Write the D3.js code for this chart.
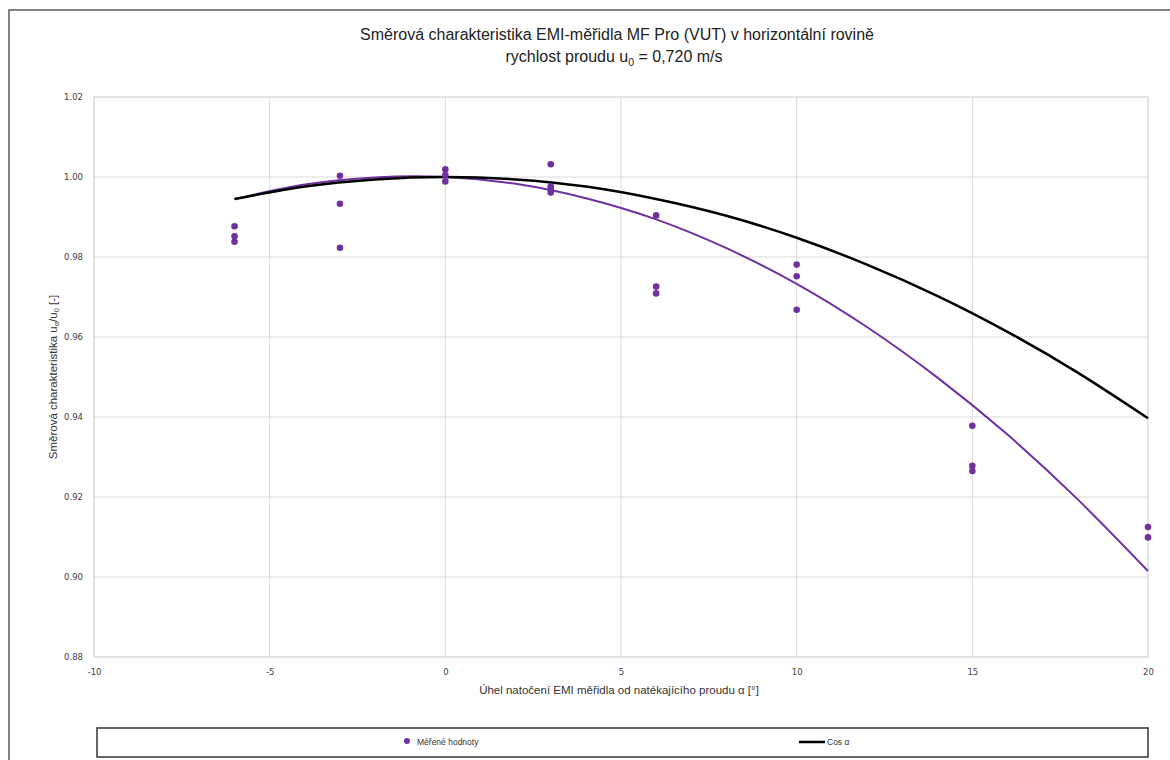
<!DOCTYPE html>
<html><head><meta charset="utf-8">
<script src="https://cdn.jsdelivr.net/npm/d3@7"></script>
<style>body{margin:0;background:#fff}svg{display:block}</style>
</head><body><svg id="c" width="1170" height="760"></svg>
<script>
// measured points (angle in degrees, ratio u_a/u_0)
const measAngles = [-6,-6,-6,-3,-3,-3,0,0,0,3,3,3,3,6,6,6,10,10,10,15,15,15,20,20];
const measValues = [0.9877,0.9852,0.9838,1.0003,0.9933,0.9823,1.0019,1.0005,0.9989,1.0032,0.9977,0.9969,0.9961,0.9904,0.9726,0.9709,0.9781,0.9752,0.9668,0.9378,0.9278,0.9265,0.9125,0.9099];
// trend curve (purple)
const trendAngles = [-6,-4,-2,0,2,4,6,8,10,12,14,16,18,20];
const trendValues = [0.9945,0.9981,0.9999,1.0000,0.9983,0.9947,0.9894,0.9822,0.9733,0.9625,0.9499,0.9356,0.9194,0.9015];
// Cos α curve (black)
const cosAngles = [-6,-4,-2,0,2,4,6,8,10,12,14,16,18,20];
const cosValues = [0.9945,0.9976,0.9994,1.0000,0.9994,0.9976,0.9945,0.9903,0.9848,0.9781,0.9703,0.9613,0.9511,0.9397];
const xTicks = [-10,-5,0,5,10,15,20];
const yTicks = [0.88,0.90,0.92,0.94,0.96,0.98,1.00,1.02];

const svg = d3.select('#c');
const L=94,R=1148,T=97,B=657;
const x = d3.scaleLinear().domain([-10,20]).range([L,R]);
const y = d3.scaleLinear().domain([0.88,1.02]).range([B,T]);
const purple = '#7030a0';

// outer frame
svg.append('rect').attr('x',9).attr('y',10).attr('width',1200).attr('height',800)
  .attr('fill','none').attr('stroke','#5a5a5a').attr('stroke-width',1.5);

// grid
svg.append('g').selectAll('line.h').data(yTicks).join('line')
  .attr('x1',L).attr('x2',R).attr('y1',d=>y(d)).attr('y2',d=>y(d))
  .attr('stroke','#d9d9d9').attr('stroke-width',1);
svg.append('g').selectAll('line.v').data(xTicks).join('line')
  .attr('y1',T).attr('y2',B).attr('x1',d=>x(d)).attr('x2',d=>x(d))
  .attr('stroke','#d9d9d9').attr('stroke-width',1);
svg.append('rect').attr('x',L).attr('y',T).attr('width',R-L).attr('height',B-T)
  .attr('fill','none').attr('stroke','#d9d9d9');

// axes (labels only)
const yAxis = d3.axisLeft(y).tickValues(yTicks).tickFormat(d3.format('.2f')).tickSize(0).tickPadding(11);
const gy = svg.append('g').attr('transform',`translate(${L},0)`).call(yAxis);
gy.select('.domain').remove();
gy.selectAll('text').attr('font-family','DejaVu Sans').attr('font-size',8.5).attr('fill','#404040');
const xAxis = d3.axisBottom(x).tickValues(xTicks).tickFormat(d=>String(d)).tickSize(0).tickPadding(12);
const gx = svg.append('g').attr('transform',`translate(0,${B})`).call(xAxis);
gx.select('.domain').remove();
gx.selectAll('text').attr('font-family','DejaVu Sans').attr('font-size',8.5).attr('fill','#404040');

// curves
const cosData = cosAngles.map((a,i)=>[a,cosValues[i]]);
const trendData = trendAngles.map((a,i)=>[a,trendValues[i]]);
const line = d3.line().x(d=>x(d[0])).y(d=>y(d[1])).curve(d3.curveNatural);
svg.append('path').datum(trendData).attr('d',line).attr('fill','none').attr('stroke',purple).attr('stroke-width',2);
svg.append('path').datum(cosData).attr('d',line).attr('fill','none').attr('stroke','#000').attr('stroke-width',2.5);

// points
svg.append('g').selectAll('circle').data(measAngles.map((a,i)=>[a,measValues[i]])).join('circle')
  .attr('cx',d=>x(d[0])).attr('cy',d=>y(d[1])).attr('r',3.3).attr('fill',purple);

// titles
const tf = 'Liberation Sans';
svg.append('text').attr('x',617).attr('y',40).attr('text-anchor','middle')
  .attr('font-family',tf).attr('font-size',16).attr('fill','#222')
  .text('Směrová charakteristika EMI-měřidla MF Pro (VUT) v horizontální rovině');
const t2 = svg.append('text').attr('x',614).attr('y',62).attr('text-anchor','middle')
  .attr('font-family',tf).attr('font-size',16).attr('fill','#222');
t2.append('tspan').text('rychlost proudu u');
t2.append('tspan').attr('font-size',10.5).attr('dy',4).text('0');
t2.append('tspan').attr('dy',-4).text(' = 0,720 m/s');

// x axis title
svg.append('text').attr('x',619).attr('y',694).attr('text-anchor','middle')
  .attr('font-family',tf).attr('font-size',11.5).attr('fill','#333')
  .text('Úhel natočení EMI měřidla od natékajícího proudu α [°]');
// y axis title
const yt = svg.append('text').attr('transform','translate(57,377) rotate(-90)').attr('text-anchor','middle')
  .attr('font-family',tf).attr('font-size',11.5).attr('fill','#333');
yt.append('tspan').text('Směrová charakteristika u');
yt.append('tspan').attr('font-size',7.5).attr('dy',2).text('α');
yt.append('tspan').attr('dy',-2).text('/u');
yt.append('tspan').attr('font-size',7.5).attr('dy',2).text('0');
yt.append('tspan').attr('dy',-2).text(' [-]');

// legend
svg.append('rect').attr('x',97).attr('y',728).attr('width',1051).attr('height',29)
  .attr('fill','#fff').attr('stroke','#333').attr('stroke-width',1.5);
svg.append('circle').attr('cx',407).attr('cy',741).attr('r',3).attr('fill',purple);
svg.append('text').attr('x',417).attr('y',745).attr('font-family',tf).attr('font-size',8.5).attr('fill','#333').text('Měřené hodnoty');
svg.append('line').attr('x1',799).attr('x2',825).attr('y1',742).attr('y2',742).attr('stroke','#000').attr('stroke-width',2.5);
svg.append('text').attr('x',827).attr('y',745).attr('font-family',tf).attr('font-size',8.5).attr('fill','#333').text('Cos α');
</script></body></html>
